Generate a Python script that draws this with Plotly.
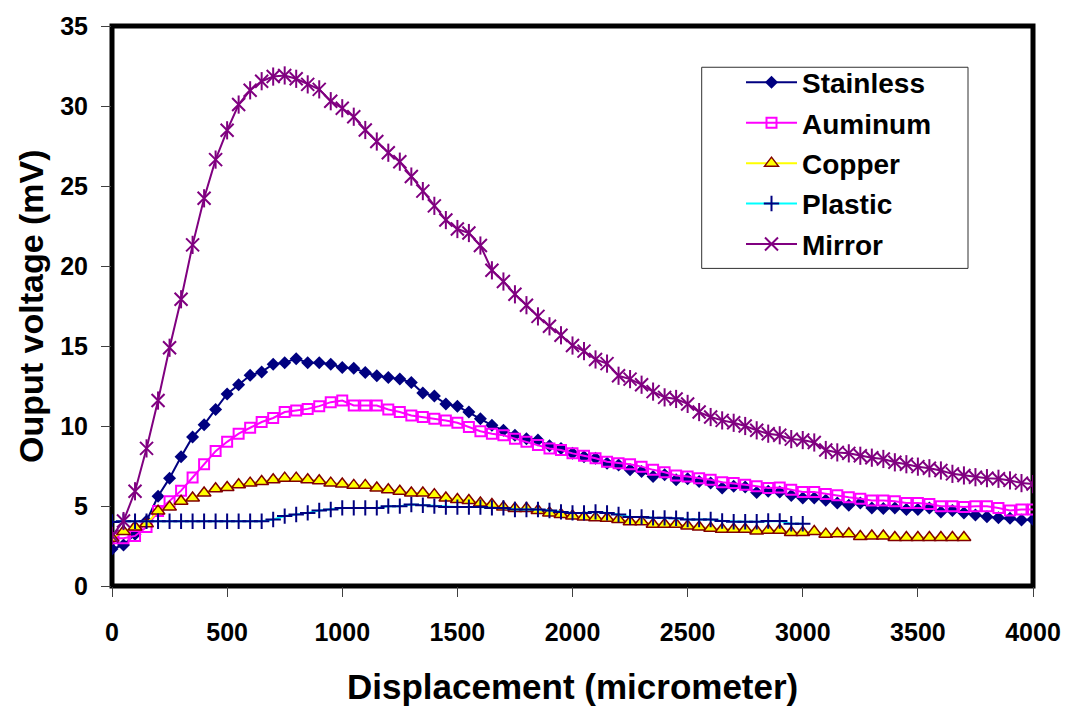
import plotly.graph_objects as go

displacement = [0, 50, 100, 150, 200, 250, 300, 350, 400, 450, 500, 550, 600, 650, 700, 750,
                800, 850, 900, 950, 1000, 1050, 1100, 1150, 1200, 1250, 1300, 1350, 1400, 1450,
                1500, 1550, 1600, 1650, 1700, 1750, 1800, 1850, 1900, 1950, 2000, 2050, 2100,
                2150, 2200, 2250, 2300, 2350, 2400, 2450, 2500, 2550, 2600, 2650, 2700, 2750,
                2800, 2850, 2900, 2950, 3000, 3050, 3100, 3150, 3200, 3250, 3300, 3350, 3400,
                3450, 3500, 3550, 3600, 3650, 3700, 3750, 3800, 3850, 3900, 3950, 4000]

stainless = [2.31, 2.56, 3.24, 4.06, 5.61, 6.74, 8.08, 9.32, 10.08, 11.03, 12.0, 12.58, 13.17,
             13.38, 13.86, 13.96, 14.21, 13.96, 13.96, 13.86, 13.65, 13.61, 13.34, 13.14, 13.03,
             12.93, 12.72, 12.06, 11.87, 11.38, 11.24, 10.87, 10.45, 10.04, 9.73, 9.42, 9.21,
             9.12, 8.76, 8.6, 8.29, 8.08, 7.98, 7.67, 7.57, 7.26, 7.15, 6.84, 6.95, 6.64, 6.7,
             6.53, 6.43, 6.12, 6.23, 6.19, 5.85, 5.92, 5.87, 5.65, 5.5, 5.5, 5.36, 5.19, 5.05,
             5.19, 4.88, 4.85, 4.88, 4.78, 4.78, 4.88, 4.63, 4.72, 4.57, 4.43, 4.33, 4.26, 4.23,
             4.12, 4.16]

aluminum = [2.99, 2.99, 3.13, 3.69, 4.68, 5.3, 5.96, 6.78, 7.61, 8.43, 9.01, 9.52, 9.89, 10.25,
            10.5, 10.87, 10.97, 11.07, 11.24, 11.49, 11.59, 11.28, 11.28, 11.28, 11.03, 10.87,
            10.66, 10.57, 10.45, 10.35, 10.2, 9.94, 9.67, 9.52, 9.42, 9.21, 9.01, 8.81, 8.6, 8.5,
            8.29, 8.14, 7.98, 7.77, 7.67, 7.61, 7.46, 7.26, 7.11, 6.91, 6.84, 6.74, 6.64, 6.49,
            6.43, 6.33, 6.23, 6.12, 6.16, 6.02, 5.87, 5.87, 5.75, 5.67, 5.54, 5.46, 5.34, 5.34,
            5.3, 5.19, 5.19, 5.13, 4.99, 4.99, 4.93, 4.99, 4.99, 4.88, 4.72, 4.78, 4.78]

copper = [2.99, 3.4, 3.69, 3.89, 4.68, 4.93, 5.3, 5.5, 5.81, 6.08, 6.16, 6.33, 6.43, 6.53, 6.64,
          6.74, 6.74, 6.64, 6.58, 6.43, 6.37, 6.29, 6.29, 6.12, 6.02, 5.92, 5.81, 5.81, 5.71,
          5.5, 5.4, 5.34, 5.19, 5.09, 4.93, 4.85, 4.85, 4.72, 4.57, 4.47, 4.37, 4.31, 4.26,
          4.23, 4.16, 4.02, 4.02, 3.86, 3.86, 3.86, 3.75, 3.69, 3.61, 3.55, 3.55, 3.55, 3.44,
          3.48, 3.48, 3.34, 3.34, 3.4, 3.24, 3.27, 3.27, 3.09, 3.13, 3.13, 3.03, 3.03, 3.03,
          3.03, 3.03, 3.03, 3.03]

plastic = [4.0, 4.05, 4.05, 4.05, 4.05, 4.05, 4.05, 4.05, 4.05, 4.05, 4.05, 4.05, 4.05, 4.05,
           4.16, 4.37, 4.47, 4.57, 4.72, 4.78, 4.88, 4.88, 4.88, 4.88, 4.99, 4.99, 5.09, 5.05,
           4.99, 4.93, 4.93, 4.93, 4.93, 4.88, 4.88, 4.78, 4.78, 4.78, 4.72, 4.63, 4.57, 4.57,
           4.63, 4.57, 4.47, 4.31, 4.31, 4.26, 4.26, 4.23, 4.16, 4.16, 4.16, 4.06, 4.02, 4.02,
           4.02, 4.06, 4.06, 3.89, 3.89]

mirror = [3.13, 4.06, 5.92, 8.6, 11.59, 14.89, 17.92, 21.32, 24.23, 26.65, 28.48, 30.09, 30.98,
          31.55, 31.84, 31.91, 31.7, 31.35, 31.04, 30.3, 29.86, 29.33, 28.5, 27.78, 27.08, 26.52,
          25.59, 24.68, 23.76, 22.87, 22.31, 22.06, 21.28, 19.73, 19.03, 18.23, 17.55, 16.85,
          16.23, 15.67, 15.03, 14.68, 14.16, 13.9, 13.14, 12.93, 12.58, 12.15, 11.79, 11.69,
          11.38, 10.87, 10.56, 10.35, 10.2, 10.0, 9.73, 9.52, 9.42, 9.18, 9.12, 8.97, 8.5, 8.35,
          8.29, 8.14, 8.02, 7.94, 7.73, 7.61, 7.46, 7.36, 7.22, 7.01, 6.91, 6.8, 6.74, 6.7, 6.6,
          6.43, 6.37]

x_ticks = [0, 500, 1000, 1500, 2000, 2500, 3000, 3500, 4000]
y_ticks = [0, 5, 10, 15, 20, 25, 30, 35]

FONT = "Arial, 'Liberation Sans', sans-serif"

fig = go.Figure()

fig.add_trace(go.Scatter(
    x=displacement[:len(stainless)], y=stainless, name="Stainless", mode="lines+markers",
    legendgroup="g1",
    line=dict(color="#000080", width=2),
    marker=dict(symbol="diamond", size=10, color="#000080", line=dict(width=0))))

fig.add_trace(go.Scatter(
    x=displacement[:len(aluminum)], y=aluminum, name="Auminum", mode="lines+markers",
    legendgroup="g2",
    line=dict(color="#FF00FF", width=2),
    marker=dict(symbol="square-open", size=10, color="#FF00FF", line=dict(width=2, color="#FF00FF"))))

fig.add_trace(go.Scatter(
    x=displacement[:len(copper)], y=copper, name="Copper", mode="lines+markers",
    legendgroup="g3",
    line=dict(color="#FFFF00", width=2),
    marker=dict(symbol="triangle-up", size=12, color="#FFFF00", line=dict(width=1.5, color="#800000"))))

fig.add_trace(go.Scatter(
    x=displacement[:len(plastic)], y=plastic, name="Plastic", mode="lines+markers",
    legendgroup="g4",
    line=dict(color="#00FFFF", width=2),
    marker=dict(symbol="cross-thin-open", size=11, color="#000080", line=dict(width=2, color="#000080"))))

fig.add_trace(go.Scatter(
    x=displacement[:len(mirror)], y=mirror, name="Mirror", mode="lines+markers",
    legendgroup="g5",
    line=dict(color="#800080", width=2),
    marker=dict(symbol="x-thin-open", size=13, color="#800080", line=dict(width=2, color="#800080"))))

fig.add_trace(go.Scatter(
    x=displacement[:len(mirror)], y=mirror, name="Mirror", mode="markers", showlegend=False,
    legendgroup="g5",
    marker=dict(symbol="line-ns-open", size=13, color="#800080", line=dict(width=2, color="#800080"))))

L, R, T, B = 112, 40, 20, 123
W, H = 1073, 709
pw = W - L - R
ph = H - T - B

def px_x(p):
    return (p - L) / pw

def px_y(p):
    return (H - B - p) / ph

fig.update_layout(
    width=W, height=H,
    margin=dict(l=L, r=R, t=T, b=B),
    paper_bgcolor="white", plot_bgcolor="white",
    font=dict(family=FONT, color="black"),
    showlegend=True,
    legend=dict(
        x=px_x(741), y=px_y(52), xanchor="left", yanchor="top",
        bgcolor="rgba(0,0,0,0)", borderwidth=0,
        font=dict(family=FONT, size=28, color="black", weight="bold"),
        itemwidth=51, traceorder="grouped", tracegroupgap=1,
    ),
    xaxis=dict(
        range=[0, 4000], tickvals=x_ticks, ticktext=[str(v) for v in x_ticks],
        showgrid=False, zeroline=False, showline=False,
        ticks="outside", ticklen=10, tickwidth=1, tickcolor="#404040",
        tickfont=dict(family=FONT, size=25, color="black", weight="bold"),
        ticklabelstandoff=14,
    ),
    yaxis=dict(
        range=[0, 35], tickvals=y_ticks, ticktext=[str(v) for v in y_ticks],
        showgrid=False, zeroline=False, showline=False,
        ticks="outside", ticklen=10, tickwidth=1, tickcolor="#404040",
        tickfont=dict(family=FONT, size=25, color="black", weight="bold"),
        ticklabelstandoff=8,
    ),
    shapes=[
        dict(type="rect", xref="paper", yref="paper", x0=0, x1=1, y0=0, y1=1,
             line=dict(color="black", width=5), layer="below"),
        dict(type="rect", xref="paper", yref="paper",
             x0=px_x(701.7), x1=px_x(968), y0=px_y(265), y1=px_y(61.7),
             line=dict(color="#303030", width=1), fillcolor="rgba(0,0,0,0)", layer="above"),
    ],
    annotations=[
        dict(text="Displacement (micrometer)", xref="paper", yref="paper",
             x=0.5, y=px_y(688), xanchor="center", yanchor="middle", showarrow=False,
             font=dict(family=FONT, size=35, color="black", weight="bold")),
        dict(text="Ouput voltage (mV)", xref="paper", yref="paper",
             x=px_x(31), y=0.5, xanchor="center", yanchor="middle", showarrow=False,
             textangle=-90,
             font=dict(family=FONT, size=34, color="black", weight="bold")),
    ],
)

fig.write_html("out.html")
